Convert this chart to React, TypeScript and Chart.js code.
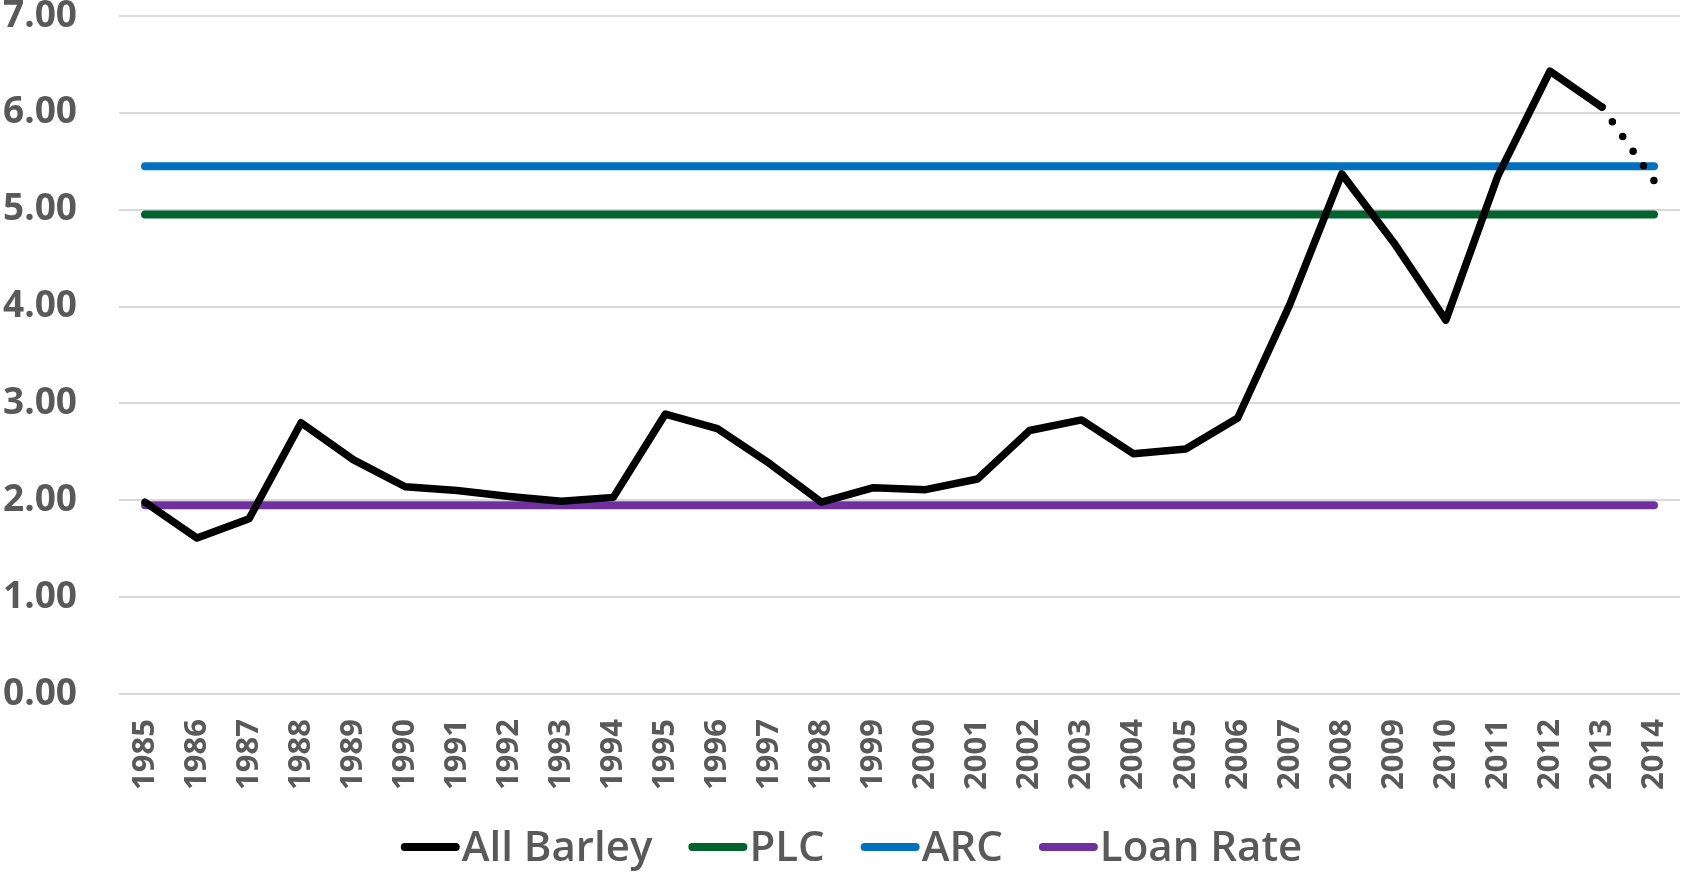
import React, { useEffect, useRef } from "react";
import { Chart, registerables } from "chart.js";

Chart.register(...registerables);

const YEARS = [
  "1985", "1986", "1987", "1988", "1989", "1990", "1991", "1992", "1993", "1994",
  "1995", "1996", "1997", "1998", "1999", "2000", "2001", "2002", "2003", "2004",
  "2005", "2006", "2007", "2008", "2009", "2010", "2011", "2012", "2013", "2014",
];

const ALL_BARLEY = [
  1.98, 1.61, 1.81, 2.80, 2.42, 2.14, 2.10, 2.04, 1.99, 2.03,
  2.89, 2.74, 2.38, 1.98, 2.13, 2.11, 2.22, 2.72, 2.83, 2.48,
  2.53, 2.85, 4.02, 5.37, 4.66, 3.86, 5.35, 6.43, 6.06, 5.30,
];

const PLC_PRICE = 4.95;
const ARC_PRICE = 5.45;
const LOAN_RATE = 1.95;

const Y_TICKS = [0, 1, 2, 3, 4, 5, 6, 7];

const SERIES_NAMES = ["All Barley", "PLC", "ARC", "Loan Rate"];
const COLORS = ["#000000", "#00642F", "#0070C0", "#7030A0"];

const TEXT_COLOR = "#595959";
const GRID_COLOR = "#D9D9D9";

const legendPlugin = {
  id: "customLegend",
  afterDraw(chart: any) {
    const ctx = chart.ctx as CanvasRenderingContext2D;
    const font = "600 42px 'Open Sans'";
    const lineLen = 51;
    const lw = 8;
    const capGap = lw / 2 + 2;
    const itemGap = 36;
    ctx.save();
    ctx.font = font;
    const items = chart.data.datasets.map((ds: any) => ({
      label: ds.label,
      color: ds.borderColor,
      w: ctx.measureText(ds.label).width,
    }));
    let total = 0;
    items.forEach((it: any, i: number) => {
      total += lw / 2 + lineLen + capGap + it.w;
      if (i < items.length - 1) total += itemGap;
    });
    let x = chart.width / 2 - total / 2 + 9.5;
    const cy = 847;
    items.forEach((it: any) => {
      ctx.beginPath();
      ctx.strokeStyle = it.color;
      ctx.lineWidth = lw;
      ctx.lineCap = "round";
      ctx.moveTo(x + lw / 2, cy);
      ctx.lineTo(x + lw / 2 + lineLen, cy);
      ctx.stroke();
      x += lw / 2 + lineLen + capGap;
      ctx.fillStyle = TEXT_COLOR;
      ctx.textAlign = "left";
      ctx.textBaseline = "middle";
      ctx.fillText(it.label, x, cy + 2);
      x += it.w + itemGap;
    });
    ctx.restore();
  },
};

function flatLine(value: number) {
  return [
    { x: YEARS[0], y: value },
    { x: YEARS[YEARS.length - 1], y: value },
  ];
}

export default function App() {
  const ref = useRef<HTMLCanvasElement | null>(null);

  useEffect(() => {
    document.body.style.margin = "0";
    const canvas = ref.current;
    if (!canvas) return;
    const lastIdx = ALL_BARLEY.length - 1;
    const chart = new Chart(canvas, {
      type: "line",
      data: {
        labels: YEARS,
        datasets: [
          {
            label: SERIES_NAMES[0],
            data: ALL_BARLEY,
            borderColor: COLORS[0],
            backgroundColor: COLORS[0],
            borderWidth: 7.5,
            pointRadius: 0,
            borderJoinStyle: "round",
            borderCapStyle: "round",
            tension: 0,
            segment: {
              borderDash: (c: any) => (c.p1DataIndex === lastIdx ? [0, 18] : undefined),
            },
            order: 0,
          },
          {
            label: SERIES_NAMES[1],
            data: flatLine(PLC_PRICE) as any,
            borderColor: COLORS[1],
            backgroundColor: COLORS[1],
            borderWidth: 8,
            pointRadius: 0,
            borderCapStyle: "round",
            order: 1,
          },
          {
            label: SERIES_NAMES[2],
            data: flatLine(ARC_PRICE) as any,
            borderColor: COLORS[2],
            backgroundColor: COLORS[2],
            borderWidth: 8,
            pointRadius: 0,
            borderCapStyle: "round",
            order: 2,
          },
          {
            label: SERIES_NAMES[3],
            data: flatLine(LOAN_RATE) as any,
            borderColor: COLORS[3],
            backgroundColor: COLORS[3],
            borderWidth: 8,
            pointRadius: 0,
            borderCapStyle: "round",
            order: 3,
          },
        ],
      },
      options: {
        animation: false,
        responsive: false,
        devicePixelRatio: 1,
        layout: { padding: { left: 3, right: 4, top: 16, bottom: 68 } },
        plugins: {
          legend: { display: false },
          tooltip: { enabled: false },
        },
        scales: {
          x: {
            type: "category",
            offset: true,
            grid: { display: false, drawTicks: false },
            border: { display: false },
            ticks: {
              minRotation: 90,
              maxRotation: 90,
              autoSkip: false,
              padding: 25,
              color: TEXT_COLOR,
              font: { family: "'Open Sans'", size: 31, weight: "bold", lineHeight: 1 },
            },
            afterFit: (s: any) => {
              s.height = 110;
              s.paddingLeft = 0;
              s.paddingRight = 0;
            },
          },
          y: {
            min: 0,
            max: 7,
            afterBuildTicks: (s: any) => {
              s.ticks = Y_TICKS.map((v) => ({ value: v }));
            },
            grid: { color: GRID_COLOR, lineWidth: 2, drawTicks: false },
            border: { display: false },
            ticks: {
              crossAlign: "far",
              color: TEXT_COLOR,
              font: { family: "'Open Sans'", size: 37, weight: "bold", lineHeight: 0.8 },
              callback: (v: any) => Number(v).toFixed(2),
            },
            afterFit: (s: any) => {
              s.width = 116;
              s.paddingTop = 0;
              s.paddingBottom = 0;
            },
          },
        },
      },
      plugins: [legendPlugin],
    });
    return () => chart.destroy();
  }, []);

  return (
    <div style={{ position: "absolute", left: 0, top: 0, width: 1684, height: 872, background: "#fff" }}>
      <canvas ref={ref} width={1684} height={872} style={{ width: 1684, height: 872, display: "block" }} />
    </div>
  );
}
